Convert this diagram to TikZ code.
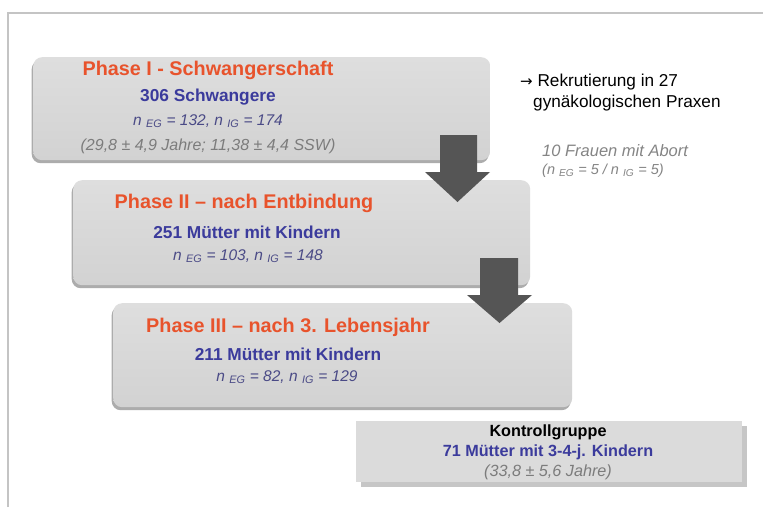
\documentclass[tikz,border=0pt]{standalone}
\usepackage{fontspec}
\setmainfont{Liberation Sans}
\newfontfamily\arrowfont{DejaVu Sans}
\usetikzlibrary{shadows}
\definecolor{framec}{HTML}{C4C4C4}
\definecolor{boxtop}{HTML}{DEDEDE}
\definecolor{boxbot}{HTML}{D2D2D2}
\definecolor{shadc}{HTML}{A4A4A4}
\definecolor{kgfill}{HTML}{DBDBDB}
\definecolor{kgshad}{HTML}{C6C6C6}
\definecolor{titlec}{HTML}{E8532C}
\definecolor{bluec}{HTML}{3B3B9C}
\definecolor{nc}{HTML}{4A4A86}
\definecolor{parc}{HTML}{7C7C7C}
\definecolor{grayit}{HTML}{858585}
\definecolor{arrowc}{HTML}{555555}
\tikzset{
  phasebox/.style={rounded corners=9pt, top color=boxtop, bottom color=boxbot, draw=none, anchor=north west,
    drop shadow={shadow xshift=-1.5pt, shadow yshift=-3pt, fill=shadc, opacity=0.9}},
  kgbox/.style={fill=kgfill, draw=none, anchor=north west,
    drop shadow={shadow xshift=5pt, shadow yshift=-5pt, fill=kgshad, opacity=1}},
  titletxt/.style={font=\fontsize{19.8}{23}\selectfont\bfseries, text=titlec, inner sep=0pt},
  numtxt/.style={font=\fontsize{17.3}{20}\selectfont\bfseries, text=bluec, inner sep=0pt},
  ntxt/.style={font=\fontsize{15.5}{18}\selectfont\itshape, text=nc, inner sep=0pt},
  partxt/.style={font=\fontsize{16}{19}\selectfont\itshape, text=parc, inner sep=0pt},
  sidetxt/.style={font=\fontsize{17.2}{20}\selectfont, text=black, inner sep=0pt, anchor=west},
  sideit/.style={font=\fontsize{16.5}{19}\selectfont\itshape, text=grayit, inner sep=0pt, anchor=west},
  kgtxt/.style={font=\fontsize{16.2}{19}\selectfont\bfseries, inner sep=0pt},
  blockarrow/.style={fill=arrowc, draw=none}
}
\begin{document}
\begin{tikzpicture}[x=1pt,y=-1pt]
\useasboundingbox (0,0) rectangle (763,507);
\fill[white] (0,0) rectangle (763,507);
% frame
\coordinate (fa) at (8,507);
\coordinate (fb) at (8,13);
\coordinate (fc) at (763,13);
\draw[framec, line width=1.4pt] (fa) -- (fb) -- (fc);

% boxes
\node[phasebox, minimum width=457pt, minimum height=103pt] (b1) at (33,57) {};
\node[phasebox, minimum width=457pt, minimum height=105pt] (b2) at (73,180) {};
\node[phasebox, minimum width=459pt, minimum height=104pt] (b3) at (113,303) {};
\node[kgbox, minimum width=386pt, minimum height=61pt] (kg) at (356,421) {};

% block arrows
\fill[blockarrow] (440,135) -- (477,135) -- (477,172) -- (490,172) -- (457.5,202) -- (425,172) -- (440,172) -- cycle;
\fill[blockarrow] (480,258) -- (518,258) -- (518,295) -- (532,295) -- (499.5,323) -- (467,295) -- (480,295) -- cycle;

% box 1 text
\node[titletxt] (t1) at (208,70) {Phase I - Schwangerschaft};
\node[numtxt] (c1) at (208,97) {306 Schwangere};
\node[ntxt] (n1) at (208,121) {n \textsubscript{EG} = 132, n \textsubscript{IG} = 174};
\node[partxt] (p1) at (208,146) {(29,8 ± 4,9 Jahre; 11,38 ± 4,4 SSW)};

% box 2 text
\node[titletxt] (t2) at (244,203) {Phase II – nach Entbindung};
\node[numtxt] (c2) at (247,232) {251 Mütter mit Kindern};
\node[ntxt] (n2) at (248,256) {n \textsubscript{EG} = 103, n \textsubscript{IG} = 148};

% box 3 text
\node[titletxt] (t3) at (288,327) {Phase III – nach 3. Lebensjahr};
\node[numtxt] (c3) at (288,354) {211 Mütter mit Kindern};
\node[ntxt] (n3) at (287,377) {n \textsubscript{EG} = 82, n \textsubscript{IG} = 129};

% side texts
\node[sidetxt] (r1) at (520,82) {{\arrowfont\fontsize{15}{18}\selectfont →} Rekrutierung in 27};
\node[sidetxt] (r2) at (533,103) {gynäkologischen Praxen};
\node[sideit] (a1) at (542,151) {10 Frauen mit Abort};
\node[sideit, font=\fontsize{14.5}{17}\selectfont\itshape] (a2) at (542,171) {(n \textsubscript{EG} = 5 / n \textsubscript{IG} = 5)};

% Kontrollgruppe
\node[kgtxt, text=black] (k1) at (548,432) {Kontrollgruppe};
\node[kgtxt, text=bluec] (k2) at (548,452) {71 Mütter mit 3-4-j. Kindern};
\node[kgtxt, font=\fontsize{16.2}{19}\selectfont\itshape, text=parc] (k3) at (548,472) {(33,8 ± 5,6 Jahre)};
\end{tikzpicture}
\end{document}
